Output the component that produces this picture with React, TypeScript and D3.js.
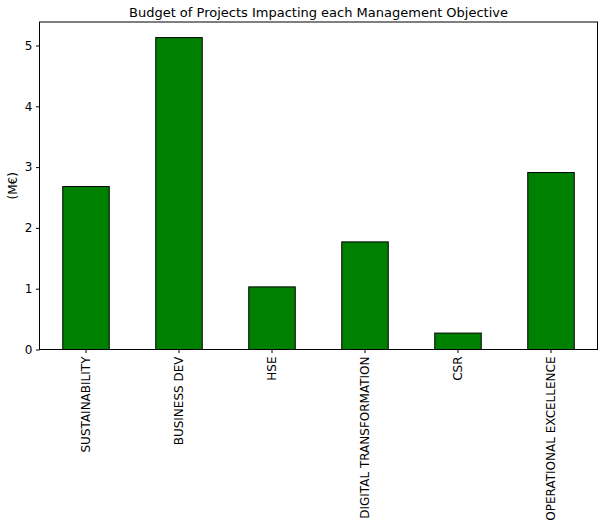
import React, { useEffect, useRef } from 'react';
import * as d3 from 'd3';

const objectives = [
  'SUSTAINABILITY',
  'BUSINESS DEV',
  'HSE',
  'DIGITAL TRANSFORMATION',
  'CSR',
  'OPERATIONAL EXCELLENCE',
];
const budgets = [2.68, 5.13, 1.03, 1.77, 0.27, 2.91];
const yTicks = [0, 1, 2, 3, 4, 5];

const W = 604;
const H = 526;
const margin = { top: 22, right: 6.5, bottom: 176.5, left: 39.5 };

const App: React.FC = () => {
  const svgRef = useRef<SVGSVGElement>(null);

  useEffect(() => {
    if (!svgRef.current) return;
    const svg = d3.select(svgRef.current);
    svg.selectAll('*').remove();

    const plotW = W - margin.left - margin.right;
    const plotH = H - margin.top - margin.bottom;
    const font = 'DejaVu Sans, sans-serif';

    const g = svg.append('g').attr('transform', `translate(${margin.left},${margin.top})`);

    const x = d3.scaleBand<string>().domain(objectives).range([0, plotW]).paddingInner(0.5).paddingOuter(0.25);
    const yMax = d3.max(budgets)! * 1.05;
    const y = d3.scaleLinear().domain([0, yMax]).range([plotH, 0]);

    // bars
    g.selectAll('rect.bar')
      .data(budgets)
      .enter()
      .append('rect')
      .attr('class', 'bar')
      .attr('x', (_, i) => x(objectives[i])!)
      .attr('y', d => y(d))
      .attr('width', x.bandwidth())
      .attr('height', d => plotH - y(d))
      .attr('fill', '#008000')
      .attr('stroke', '#000')
      .attr('stroke-width', 1);

    // y axis
    const yAxis = g.append('g').call(
      d3.axisLeft(y).tickValues(yTicks).tickSize(3.5).tickPadding(3.5).tickFormat(d3.format('d'))
    );
    yAxis.select('.domain').remove();
    yAxis.selectAll('text').attr('font-size', 12).attr('font-family', font).attr('fill', '#000');
    yAxis.selectAll('line').attr('stroke', '#000');

    // x axis
    const xAxis = g.append('g').attr('transform', `translate(0,${plotH})`).call(
      d3.axisBottom(x).tickSize(3.5).tickPadding(3.5)
    );
    xAxis.select('.domain').remove();
    xAxis.selectAll('line').attr('stroke', '#000');
    xAxis.selectAll('text')
      .attr('font-size', 12)
      .attr('font-family', font)
      .attr('fill', '#000')
      .attr('transform', 'rotate(-90)')
      .attr('text-anchor', 'end')
      .attr('dy', '0.32em')
      .attr('x', -7)
      .attr('y', 0);

    // frame
    g.append('rect')
      .attr('x', 0)
      .attr('y', 0)
      .attr('width', plotW)
      .attr('height', plotH)
      .attr('fill', 'none')
      .attr('stroke', '#000')
      .attr('stroke-width', 1);

    // title
    svg.append('text')
      .attr('x', margin.left + plotW / 2)
      .attr('y', margin.top - 5.5)
      .attr('text-anchor', 'middle')
      .attr('font-size', 13)
      .attr('font-family', font)
      .attr('fill', '#000')
      .text('Budget of Projects Impacting each Management Objective');

    // y label
    svg.append('text')
      .attr('transform', `translate(17,${margin.top + plotH / 2}) rotate(-90)`)
      .attr('text-anchor', 'middle')
      .attr('font-size', 12)
      .attr('font-family', font)
      .attr('fill', '#000')
      .text('(M€)');
  }, []);

  return (
    <svg
      ref={svgRef}
      width={W}
      height={H}
      viewBox={`0 0 ${W} ${H}`}
      style={{ display: 'block', position: 'absolute', left: 0, top: 0, background: '#fff' }}
    />
  );
};

export default App;
